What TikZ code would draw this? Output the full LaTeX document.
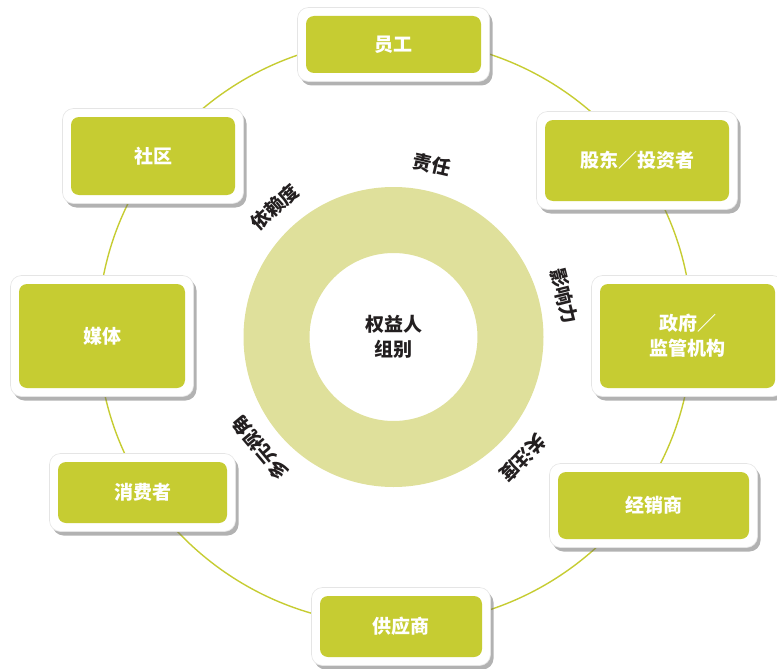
\documentclass[tikz,border=0pt]{standalone}
\usepackage{fontspec}
\setmainfont{Noto Sans CJK SC}
\usetikzlibrary{shadows}
\definecolor{lime}{HTML}{C6CC32}
\definecolor{ringc}{HTML}{DFE09B}
\definecolor{txt}{HTML}{231F20}
\tikzset{
  outerbox/.style={draw=black!10, line width=0.6pt, fill=white, rounded corners=11pt,
    drop shadow={shadow xshift=3pt, shadow yshift=-4pt, opacity=0.5, fill=black!60}},
  innerbox/.style={fill=lime, rounded corners=8pt, text=white,
    font=\bfseries\fontsize{19}{25}\selectfont, align=center, inner sep=0pt},
  ringlbl/.style={text=txt, font=\bfseries\fontsize{19}{22}\selectfont, inner sep=0pt},
  orbit/.style={draw=lime, line width=1.4pt},
}
\newcommand\stake[6]{%
  \node[outerbox, minimum width=#4pt+17pt, minimum height=#5pt+17pt] (#1o) at (#2,#3) {};
  \node[innerbox, minimum width=#4pt, minimum height=#5pt] (#1) at (#2,#3) {#6};}
\begin{document}
\begin{tikzpicture}[x=1pt,y=-1pt]
\useasboundingbox (0,0) rectangle (777,669);
% orbit
\draw[orbit] (395,332) ellipse [x radius=297pt, y radius=293pt];
% ring
\fill[ringc, even odd rule] (393.5,337) circle [radius=150pt] (393.5,337) circle [radius=84pt];
\node[text=txt, font=\bfseries\fontsize{19}{25}\selectfont, align=center, inner sep=0pt] (center) at (393.5,337) {权益人\\组别};
% stakeholder boxes
\stake{yg}{393.5}{44.5}{175}{57}{员工}
\stake{gd}{637}{160.5}{184}{81}{股东／投资者}
\stake{zf}{687.5}{336}{175}{104}{政府／\\监管机构}
\stake{jx}{653.5}{505.5}{191}{67}{经销商}
\stake{gy}{401}{626.5}{162}{61}{供应商}
\stake{xf}{142.5}{492.5}{169}{61}{消费者}
\stake{mt}{102}{336}{166}{104}{媒体}
\stake{sq}{153}{156}{164}{78}{社区}
% ring labels
\node[ringlbl, rotate=-13] (l1) at (432,165) {责任};
\node[ringlbl, rotate=42] (l2) at (275,207) {依赖度};
\node[ringlbl, rotate=-76] (l3) at (564,296) {影响力};
\node[ringlbl, rotate=-134] (l4) at (523,458) {关注度};
\node[ringlbl, rotate=130] (l5) at (260,448) {多元视角};
\end{tikzpicture}
\end{document}
